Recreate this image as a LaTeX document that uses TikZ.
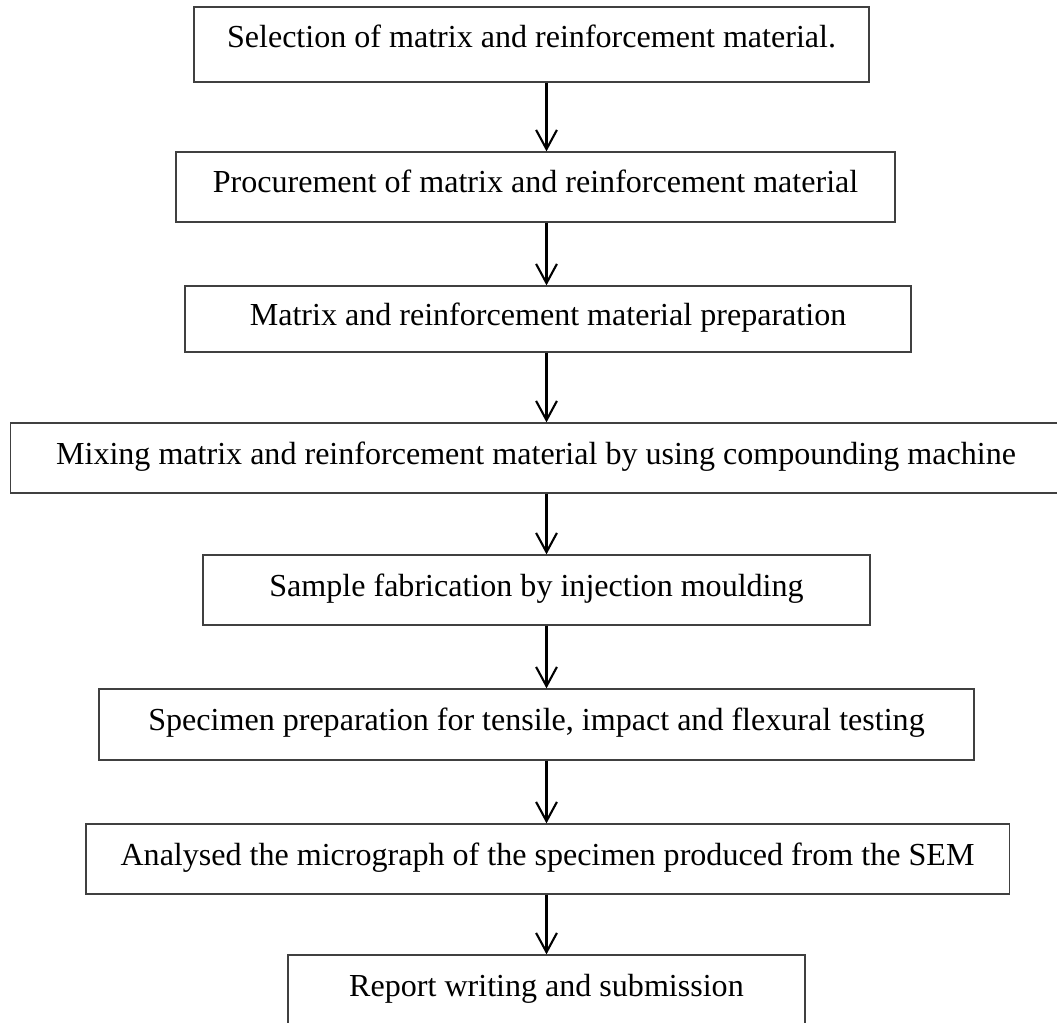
\documentclass[tikz,border=0pt]{standalone}
\usepackage{fontspec}
\setmainfont{Liberation Serif}
\usetikzlibrary{arrows.meta}

\begin{document}
\begin{tikzpicture}[x=0.025cm,y=-0.025cm,
  flow/.style={line width=1.5pt,-{Straight Barb[length=4.8mm,width=5.2mm]}}]
\useasboundingbox (0,0) rectangle (1057,1023);
\clip (0,0) rectangle (1057,1023);
\begin{scope}[every node/.style={draw=black!75,line width=0.9pt,inner sep=0pt,minimum height=1.75cm,text height=0.88em,text depth=0em,font=\fontsize{22.8}{27}\selectfont}]
\node[minimum width=16.875cm,minimum height=1.875cm,text height=0.7em,text depth=0.3em] (sel) at (531.5,44.5) {Selection of matrix and reinforcement material.};
\node[minimum width=17.975cm,text height=0.74em] (proc) at (535.5,187) {Procurement of matrix and reinforcement material};
\node[minimum width=18.15cm,minimum height=1.65cm] (prep) at (548,319) {Matrix and reinforcement material preparation};
\node[minimum width=26.275cm] (mix) at (536,458) {Mixing matrix and reinforcement material by using compounding machine};
\node[minimum width=16.675cm] (fab) at (536.5,590) {Sample fabrication by injection moulding};
\node[minimum width=21.875cm,minimum height=1.775cm] (spec) at (536.5,724.5) {Specimen preparation for tensile, impact and flexural testing};
\node[minimum width=23.075cm] (sem) at (547.5,859) {Analysed the micrograph of the specimen produced from the SEM};
\node[minimum width=12.925cm] (rep) at (546.5,990) {Report writing and submission};
\end{scope}
\coordinate (mid) at (546.5,0);
\draw [flow] (sel.south -| mid) -- (proc.north -| mid);
\draw [flow] (proc.south -| mid) -- (prep.north -| mid);
\draw [flow] (prep.south -| mid) -- (mix.north -| mid);
\draw [flow] (mix.south -| mid) -- (fab.north -| mid);
\draw [flow] (fab.south -| mid) -- (spec.north -| mid);
\draw [flow] (spec.south -| mid) -- (sem.north -| mid);
\draw [flow] (sem.south -| mid) -- (rep.north -| mid);
\end{tikzpicture}
\end{document}
